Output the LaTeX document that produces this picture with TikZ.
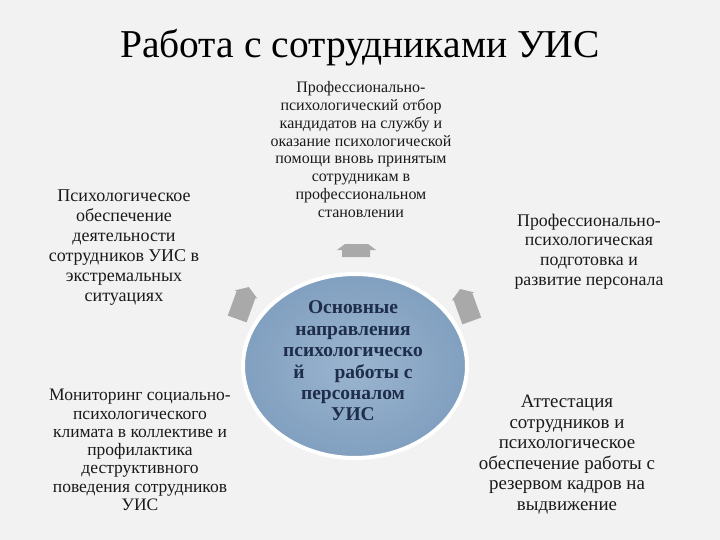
\documentclass[tikz,border=0pt]{standalone}
\usepackage{fontspec}
\setmainfont{Liberation Serif}
\definecolor{bgc}{HTML}{F2F2F2}
\definecolor{arrowgray}{HTML}{A9A9A9}
\definecolor{circin}{HTML}{9AB5CF}
\definecolor{circout}{HTML}{819FBF}
\definecolor{navy}{HTML}{1E2D4A}
\definecolor{txt}{HTML}{1A1A1A}
\begin{document}
\begin{tikzpicture}[x=1pt,y=-1pt,
  lbl/.style={align=center,text=txt,inner sep=0pt},
  blockarrow/.pic={\fill[arrowgray] (-10,17) -- (-10,-9) -- (-12,-9) -- (0,-17) -- (12,-9) -- (10,-9) -- (10,17) -- cycle;}]
\useasboundingbox (0,0) rectangle (720,540);
\fill[bgc] (0,0) rectangle (720,540);
% central circle
\shade[inner color=circin,outer color=circout,draw=white,line width=4pt] (355,366) ellipse [x radius=112,y radius=92];
\node[lbl,text=navy,font=\bfseries\fontsize{19.5}{21.4}\selectfont] (center) at (353,361)
 {Основные\\направления\\психологическо\\й\hspace{30pt}работы с\\персоналом\\УИС};
% arrows
\fill[arrowgray] (345,244) -- (368,244) -- (376,250) -- (370,250) -- (370,257) -- (342,257) -- (342,250) -- (337,250) -- cycle;
\pic[rotate=-20] (arrL) at (243,303) {blockarrow};
\pic[rotate=20] (arrR) at (466,305) {blockarrow};
% title
\node[inner sep=0pt,anchor=base,text=black,font=\fontsize{39.5}{44}\selectfont] (title) at (360,58) {Работа с сотрудниками УИС};
% texts
\node[lbl,font=\fontsize{16}{17.9}\selectfont] (top) at (361,149.5)
 {Профессионально-\\психологический отбор\\кандидатов на службу и\\оказание психологической\\помощи вновь принятым\\сотрудникам в\\профессиональном\\становлении};
\node[lbl,font=\fontsize{18}{20}\selectfont] (lt) at (124,248)
 {Психологическое\\обеспечение\\деятельности\\сотрудников УИС в\\экстремальных\\ситуациях};
\node[lbl,font=\fontsize{17.5}{18.3}\selectfont] (lb) at (140,450)
 {Мониторинг социально-\\психологического\\климата в коллективе и\\профилактика\\деструктивного\\поведения сотрудников\\УИС};
\node[lbl,font=\fontsize{17.8}{19.7}\selectfont] (rt) at (589,251.5)
 {Профессионально-\\психологическая\\подготовка и\\развитие персонала};
\node[lbl,font=\fontsize{18.9}{20.6}\selectfont] (rb) at (567,454.5)
 {Аттестация\\сотрудников и\\психологическое\\обеспечение работы с\\резервом кадров на\\выдвижение};
\end{tikzpicture}
\end{document}
